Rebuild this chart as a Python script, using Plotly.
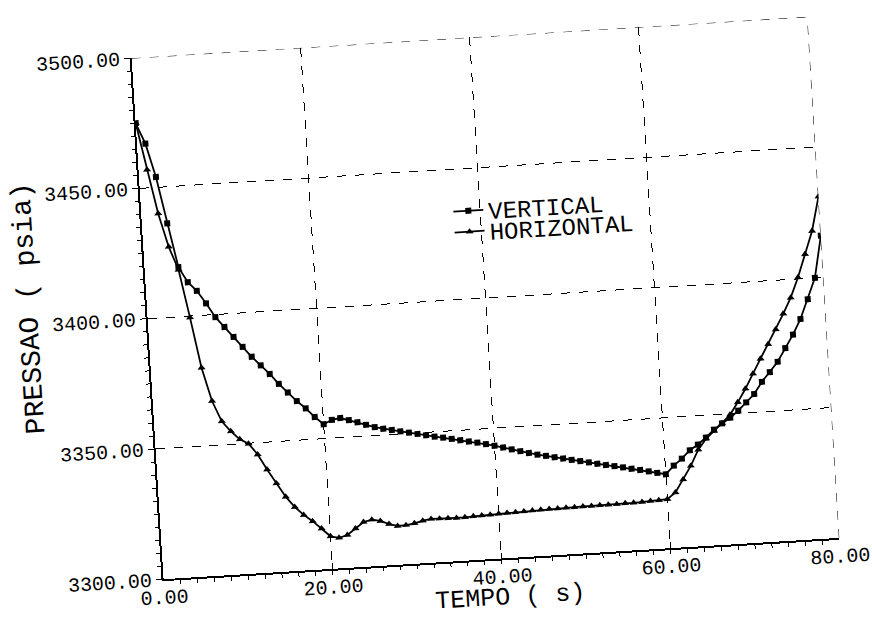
import plotly.graph_objects as go

# Time axis (s): one reading per second
tempo = list(range(81))

# Pressure (psia) for the vertical well
vertical = [
    3475, 3467, 3454, 3436, 3419, 3413, 3409.5, 3404.5, 3399, 3395,
    3391, 3387, 3383, 3379.5, 3376, 3372, 3368.5, 3365, 3362, 3358.5,
    3355.5, 3357, 3357.5, 3356.5, 3355.5, 3354.3, 3353.2, 3352.4, 3351.7, 3351,
    3350.3, 3349.6, 3348.9, 3348.2, 3347.6, 3346.9, 3346.2, 3345.5, 3344.9, 3344.1,
    3343.3, 3342.4, 3341.5, 3340.6, 3339.7, 3338.9, 3338.2, 3337.5, 3336.8, 3336.1,
    3335.4, 3334.7, 3334, 3333.3, 3332.7, 3332, 3331.3, 3330.6, 3329.9, 3329.1,
    3328.4, 3331.5, 3334, 3337, 3339, 3341.5, 3344.3, 3346.5, 3348.5, 3351,
    3354, 3357, 3361.5, 3365, 3368.8, 3373.8, 3378.8, 3384.6, 3392, 3400,
    3416,
]

# Pressure (psia) for the horizontal well
horizontal = [
    3475, 3457, 3440, 3427, 3418, 3399.5, 3380, 3367, 3359, 3355,
    3351.7, 3349.8, 3345.5, 3339.5, 3334, 3328.7, 3324.5, 3321.3, 3318.7, 3315.7,
    3312.5, 3311.7, 3312.6, 3314.9, 3317.2, 3317.9, 3317.2, 3315.8, 3314.9, 3315,
    3315.5, 3316.3, 3316.8, 3316.7, 3316.6, 3316.5, 3316.6, 3316.8, 3316.9, 3317,
    3317.2, 3317.3, 3317.4, 3317.5, 3317.6, 3317.7, 3317.8, 3317.8, 3317.9, 3317.9,
    3318, 3318, 3318.1, 3318.1, 3318.1, 3318.2, 3318.2, 3318.3, 3318.5, 3318.6,
    3318.8, 3321.2, 3326, 3331, 3337, 3341, 3343.8, 3346.6, 3349.6, 3354.2,
    3359.2, 3364.8, 3370.3, 3375.7, 3381.2, 3387, 3393, 3400.5, 3409.3, 3418,
    3431,
]

x_ticks = [0, 20, 40, 60, 80]
x_labels = ["0.00", "20.00", "40.00", "60.00", "80.00"]
y_ticks = [3300, 3350, 3400, 3450, 3500]
y_labels = ["3300.00", "3350.00", "3400.00", "3450.00", "3500.00"]

INK = "black"
MONO = "Liberation Mono"
X_RANGE = [0, 80]
Y_RANGE = [3300, 3500]

fig = go.Figure()
fig.add_trace(go.Scatter(
    x=tempo, y=vertical, name="VERTICAL", mode="lines+markers",
    line=dict(color=INK, width=1.8),
    marker=dict(symbol="square", size=6, color=INK),
    legend="legend",
))
fig.add_trace(go.Scatter(
    x=tempo, y=horizontal, name="HORIZONTAL", mode="lines+markers",
    line=dict(color=INK, width=1.8),
    marker=dict(symbol="triangle-up", size=7, color=INK),
    legend="legend2",
))

axis_common = dict(
    showgrid=True, gridcolor=INK, griddash="dash", gridwidth=1,
    showline=True, linecolor=INK, linewidth=1.5, mirror=False,
    zeroline=False, tickcolor=INK, tickwidth=1,
    tickfont=dict(family=MONO, size=20, color=INK),
    automargin=False,
)

fig.update_xaxes(
    range=X_RANGE, tickvals=x_ticks, ticktext=x_labels,
    ticks="inside", ticklen=6, ticklabelstandoff=-1,
    minor=dict(tick0=0, dtick=2, ticks="outside", ticklen=4, tickcolor=INK, showgrid=False),
    **axis_common,
)
fig.update_yaxes(
    range=Y_RANGE, tickvals=y_ticks, ticktext=y_labels,
    ticks="outside", ticklen=6,
    minor=dict(tick0=3300, dtick=5, ticks="outside", ticklen=4, tickcolor=INK, showgrid=False),
    **axis_common,
)

# Axis titles in the plotter's fixed-pitch lettering
fig.add_annotation(text="TEMPO ( s)", xref="paper", yref="paper",
                   x=0.509, y=-0.076, xanchor="center", yanchor="middle",
                   showarrow=False, font=dict(family=MONO, size=25, color=INK))
fig.add_annotation(text="PRESSAO ( psia)", xref="paper", yref="paper",
                   x=-0.174, y=0.534, xanchor="center", yanchor="middle",
                   textangle=-90, showarrow=False,
                   font=dict(family=MONO, size=28, color=INK))

# Dashed grid lines along the far edges of the frame (top and right)
edge_dash = dict(color=INK, width=1, dash="dash")
fig.add_shape(type="line", xref="x", yref="y",
              x0=X_RANGE[0], x1=X_RANGE[1], y0=Y_RANGE[1], y1=Y_RANGE[1], line=edge_dash)
fig.add_shape(type="line", xref="x", yref="y",
              x0=X_RANGE[1], x1=X_RANGE[1], y0=Y_RANGE[0], y1=Y_RANGE[1], line=edge_dash)

legend_style = dict(
    xanchor="left", yanchor="middle",
    font=dict(family=MONO, size=24, color=INK),
    bgcolor="rgba(0,0,0,0)",
)

fig.update_layout(
    width=872, height=618, autosize=False,
    margin=dict(l=147, r=48, t=37, b=59, autoexpand=False),
    paper_bgcolor="white", plot_bgcolor="white",
    showlegend=True,
    legend=dict(x=0.453, y=0.668, **legend_style),
    legend2=dict(x=0.453, y=0.628, **legend_style),
)

# The plotter sheet sits slightly turned on the page
tilt_js = """
var gd = document.getElementById('{plot_id}');
gd.style.transformOrigin = '485.5px 298px';
gd.style.transform = 'rotate(-3.5deg)';
document.documentElement.style.overflow = 'hidden';
document.body.style.overflow = 'hidden';
document.body.style.margin = '0';
"""

fig.write_html("out.html", post_script=tilt_js)
